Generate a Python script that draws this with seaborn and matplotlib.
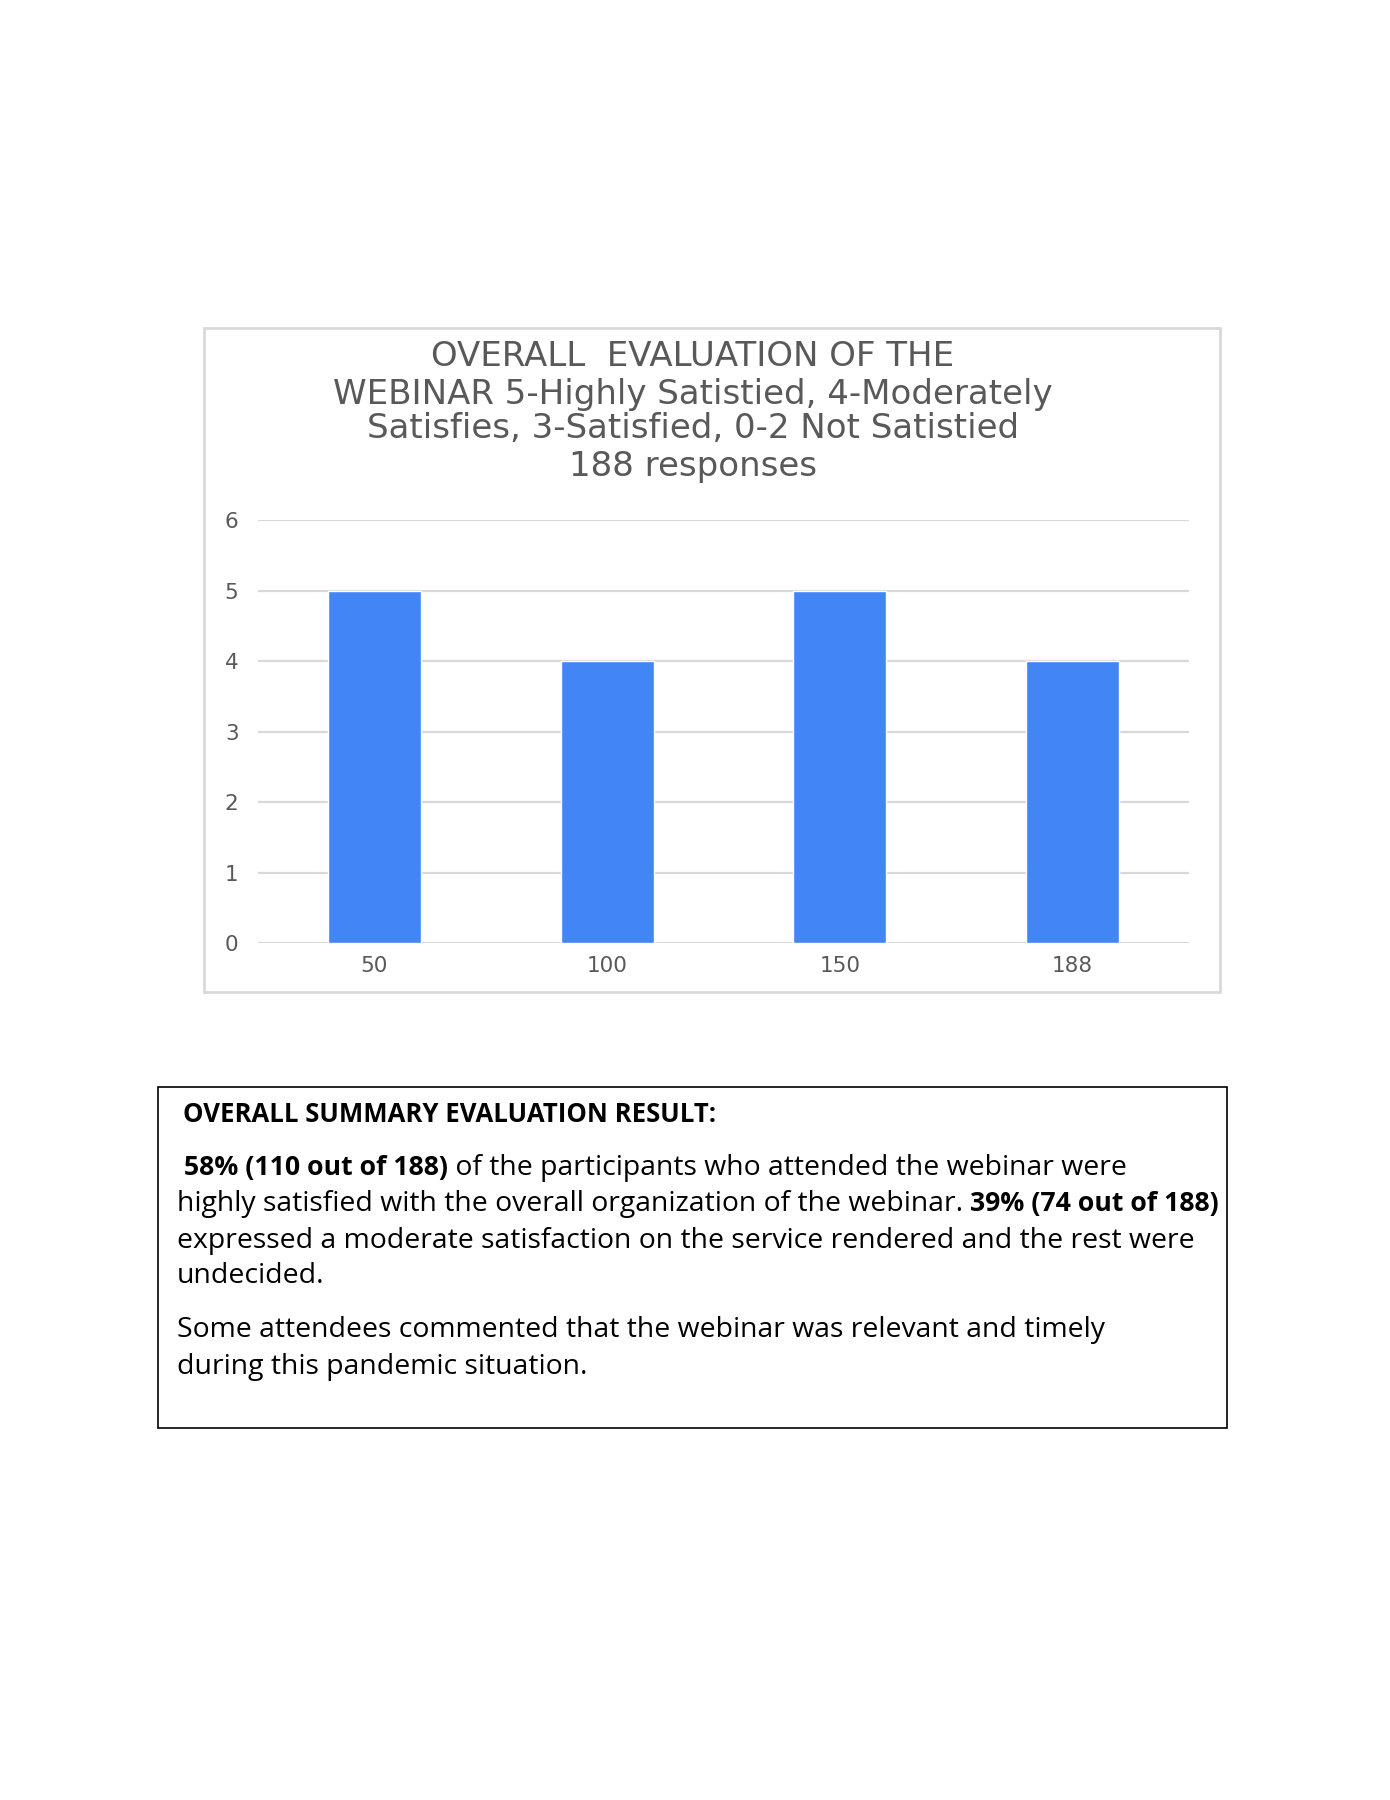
import matplotlib
matplotlib.use("Agg")
import matplotlib.pyplot as plt
import seaborn as sns
import pandas as pd
from matplotlib.patches import Rectangle

# chart data
responses = ["50", "100", "150", "188"]
ratings = [5, 4, 5, 4]
y_ticks = [0, 1, 2, 3, 4, 5, 6]

title_lines = [
    "OVERALL  EVALUATION OF THE",
    "WEBINAR 5-Highly Satistied, 4-Moderately",
    "Satisfies, 3-Satisfied, 0-2 Not Satistied",
    "188 responses",
]

summary_heading = "OVERALL SUMMARY EVALUATION RESULT:"
# each line is a list of (text, bold) runs
summary_lines = [
    [(" 58% (110 out of 188)", True), (" of the participants who attended the webinar were", False)],
    [("highly satisfied with the overall organization of the webinar. ", False), ("39% (74 out of 188)", True)],
    [("expressed a moderate satisfaction on the service rendered and the rest were", False)],
    [("undecided.", False)],
    [("Some attendees commented that the webinar was relevant and timely", False)],
    [("during this pandemic situation.", False)],
]

df = pd.DataFrame({"responses": responses, "rating": ratings})

sns.set_theme(style="white")
plt.rcParams["font.family"] = ["DejaVu Sans"]

fig = plt.figure(figsize=(13.9, 18), dpi=100)
fig.patch.set_facecolor("white")

# chart frame
fig.patches.append(Rectangle((0.1468, 0.4489), 0.7309, 0.3689, transform=fig.transFigure,
                             fill=False, edgecolor="#d9d9d9", linewidth=2))

ax = fig.add_axes([0.1856, 0.4761, 0.6698, 0.2350])
sns.barplot(data=df, x="responses", y="rating", color="#4285F4", saturation=1,
            width=0.4, ax=ax, zorder=3)
ax.set_ylim(0, 6)
ax.set_xlim(-0.5, 3.5)
ax.set_yticks(y_ticks)
ax.set_xlabel("")
ax.set_ylabel("")
ax.yaxis.grid(True, color="#d9d9d9", linewidth=1.6, zorder=0)
ax.set_axisbelow(True)
for s in ax.spines.values():
    s.set_visible(False)
ax.tick_params(axis="y", length=0, pad=14, labelsize=15.5, labelcolor="#595959")
ax.tick_params(axis="x", length=0, pad=9, labelsize=15.5, labelcolor="#595959")

title_y = [0.8022, 0.7811, 0.7617, 0.7411]
for line, y in zip(title_lines, title_y):
    fig.text(0.4986, y, line, ha="center", va="center", fontsize=24.5, color="#595959")

# summary box
fig.patches.append(Rectangle((0.1137, 0.2067), 0.7690, 0.1894, transform=fig.transFigure,
                             fill=False, edgecolor="black", linewidth=1.2))

body_font = ["Open Sans", "DejaVu Sans"]
fig.text(0.1317, 1 - 1115 / 1800, summary_heading, ha="left", va="center",
         fontsize=18.5, fontweight="bold", family=body_font, color="black")

renderer = fig.canvas.get_renderer()
line_y = [1168, 1204, 1241, 1276, 1330, 1367]
for runs, ypx in zip(summary_lines, line_y):
    x = 177 / 1390
    for txt, bold in runs:
        t = fig.text(x, 1 - ypx / 1800, txt, ha="left", va="center",
                     fontsize=19.2 if bold else 20.4,
                     fontweight="bold" if bold else "normal", family=body_font, color="black")
        bb = t.get_window_extent(renderer=renderer)
        x = bb.x1 / fig.bbox.width

fig.savefig("out.png", dpi=100, facecolor="white")
